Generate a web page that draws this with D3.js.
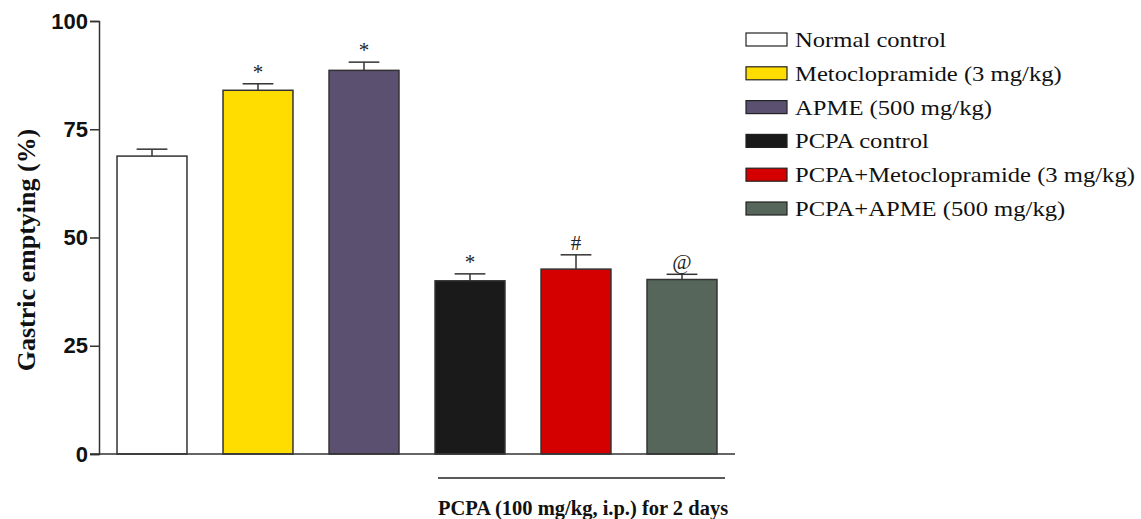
<!DOCTYPE html>
<html>
<head>
<meta charset="utf-8">
<script src="https://cdn.jsdelivr.net/npm/d3@7"></script>
<style>
  body { margin: 0; background: #fff; }
  .axis path, .axis line { stroke: #333; stroke-width: 1.5px; }
</style>
</head>
<body>
<div class="chart"></div>
<script>
const groups = [
  'Normal control',
  'Metoclopramide (3 mg/kg)',
  'APME (500 mg/kg)',
  'PCPA control',
  'PCPA+Metoclopramide (3 mg/kg)',
  'PCPA+APME (500 mg/kg)'
]
const means = [68.8, 84.0, 88.6, 40.0, 42.7, 40.3]
const sems = [1.6, 1.5, 1.9, 1.6, 3.3, 1.2]
const marks = ['', '*', '*', '*', '#', '@']
const colors = ['#ffffff', '#ffdd00', '#5b5070', '#1a1a1a', '#d40000', '#56665a']
const yTicks = [0, 25, 50, 75, 100]

;(function init() {
  const width = 1141
  const height = 519
  const margin = { left: 99, top: 21, bottom: 65 }
  const serif = "'Liberation Serif', 'Times New Roman', serif"

  const svg = d3
    .select('.chart')
    .append('svg')
    .attr('width', width)
    .attr('height', height)

  const xScale = d3
    .scaleBand()
    .domain(groups)
    .range([margin.left, 735])
    .paddingInner(0.34)
    .paddingOuter(0.17)

  const yScale = d3
    .scaleLinear()
    .domain([0, 100])
    .range([height - margin.bottom, margin.top])

  // bars
  svg
    .selectAll('rect.bar')
    .data(groups)
    .enter()
    .append('rect')
    .attr('class', 'bar')
    .attr('x', (d) => xScale(d))
    .attr('y', (d, i) => yScale(means[i]))
    .attr('width', xScale.bandwidth())
    .attr('height', (d, i) => yScale(0) - yScale(means[i]))
    .attr('fill', (d, i) => colors[i])
    .attr('stroke', '#333')
    .attr('stroke-width', 1.5)

  // error bars (upper only) + significance marks
  const capHalf = xScale.bandwidth() * 0.22
  groups.forEach((g, i) => {
    const cx = xScale(g) + xScale.bandwidth() / 2
    const top = yScale(means[i] + sems[i])
    svg
      .append('line')
      .attr('x1', cx)
      .attr('x2', cx)
      .attr('y1', yScale(means[i]))
      .attr('y2', top)
      .attr('stroke', '#333')
      .attr('stroke-width', 1.5)
    svg
      .append('line')
      .attr('x1', cx - capHalf)
      .attr('x2', cx + capHalf)
      .attr('y1', top)
      .attr('y2', top)
      .attr('stroke', '#333')
      .attr('stroke-width', 1.5)
    svg
      .append('text')
      .attr('x', cx)
      .attr('y', top - 5)
      .attr('text-anchor', 'middle')
      .style('font-family', serif)
      .style('font-size', '21px')
      .style('fill', '#222')
      .text(marks[i])
  })

  // axes
  svg
    .append('g')
    .attr('class', 'axis')
    .attr('transform', 'translate(' + margin.left + ',0)')
    .call(d3.axisLeft(yScale).tickValues(yTicks).tickSize(9).tickPadding(2))
    .call((g) =>
      g
        .selectAll('text')
        .style('font-family', "'Liberation Sans', Arial, sans-serif")
        .style('font-weight', 'bold')
        .style('font-size', '22px')
        .style('fill', '#111')
    )

  svg
    .append('g')
    .attr('class', 'axis')
    .attr('transform', 'translate(0,' + yScale(0) + ')')
    .call(d3.axisBottom(xScale).tickSize(0).tickFormat(''))
    .call((g) => g.select('.domain').attr('d', 'M90,0H735'))

  svg
    .append('text')
    .attr('transform', 'translate(35,250) rotate(-90) scale(1.04,1)')
    .attr('text-anchor', 'middle')
    .style('font-family', serif)
    .style('font-weight', 'bold')
    .style('font-size', '25px')
    .style('fill', '#111')
    .text('Gastric emptying (%)')

  // PCPA bracket
  svg
    .append('line')
    .attr('x1', xScale(groups[3]) + 3)
    .attr('x2', xScale(groups[5]) + xScale.bandwidth() + 8)
    .attr('y1', 478)
    .attr('y2', 478)
    .attr('stroke', '#222')
    .attr('stroke-width', 1.3)

  svg
    .append('text')
    .attr('x', (xScale(groups[3]) + xScale(groups[5]) + xScale.bandwidth()) / 2 + 7)
    .attr('y', 515)
    .attr('text-anchor', 'middle')
    .style('font-family', serif)
    .style('font-weight', 'bold')
    .style('font-size', '20.5px')
    .style('fill', '#111')
    .text('PCPA (100 mg/kg, i.p.) for 2 days')

  // legend
  const legend = svg
    .selectAll('g.legend')
    .data(groups)
    .enter()
    .append('g')
    .attr('class', 'legend')
    .attr('transform', (d, i) => 'translate(746,' + (33 + i * 33.8) + ')')

  legend
    .append('rect')
    .attr('width', 41)
    .attr('height', 13)
    .attr('fill', (d, i) => colors[i])
    .attr('stroke', '#222')
    .attr('stroke-width', 1.2)

  legend
    .append('text')
    .attr('transform', 'translate(49,14) scale(1.12,1)')
    .style('font-family', serif)
    .style('font-size', '22px')
    .style('fill', '#111')
    .text((d) => d)
})()
</script>
</body>
</html>
